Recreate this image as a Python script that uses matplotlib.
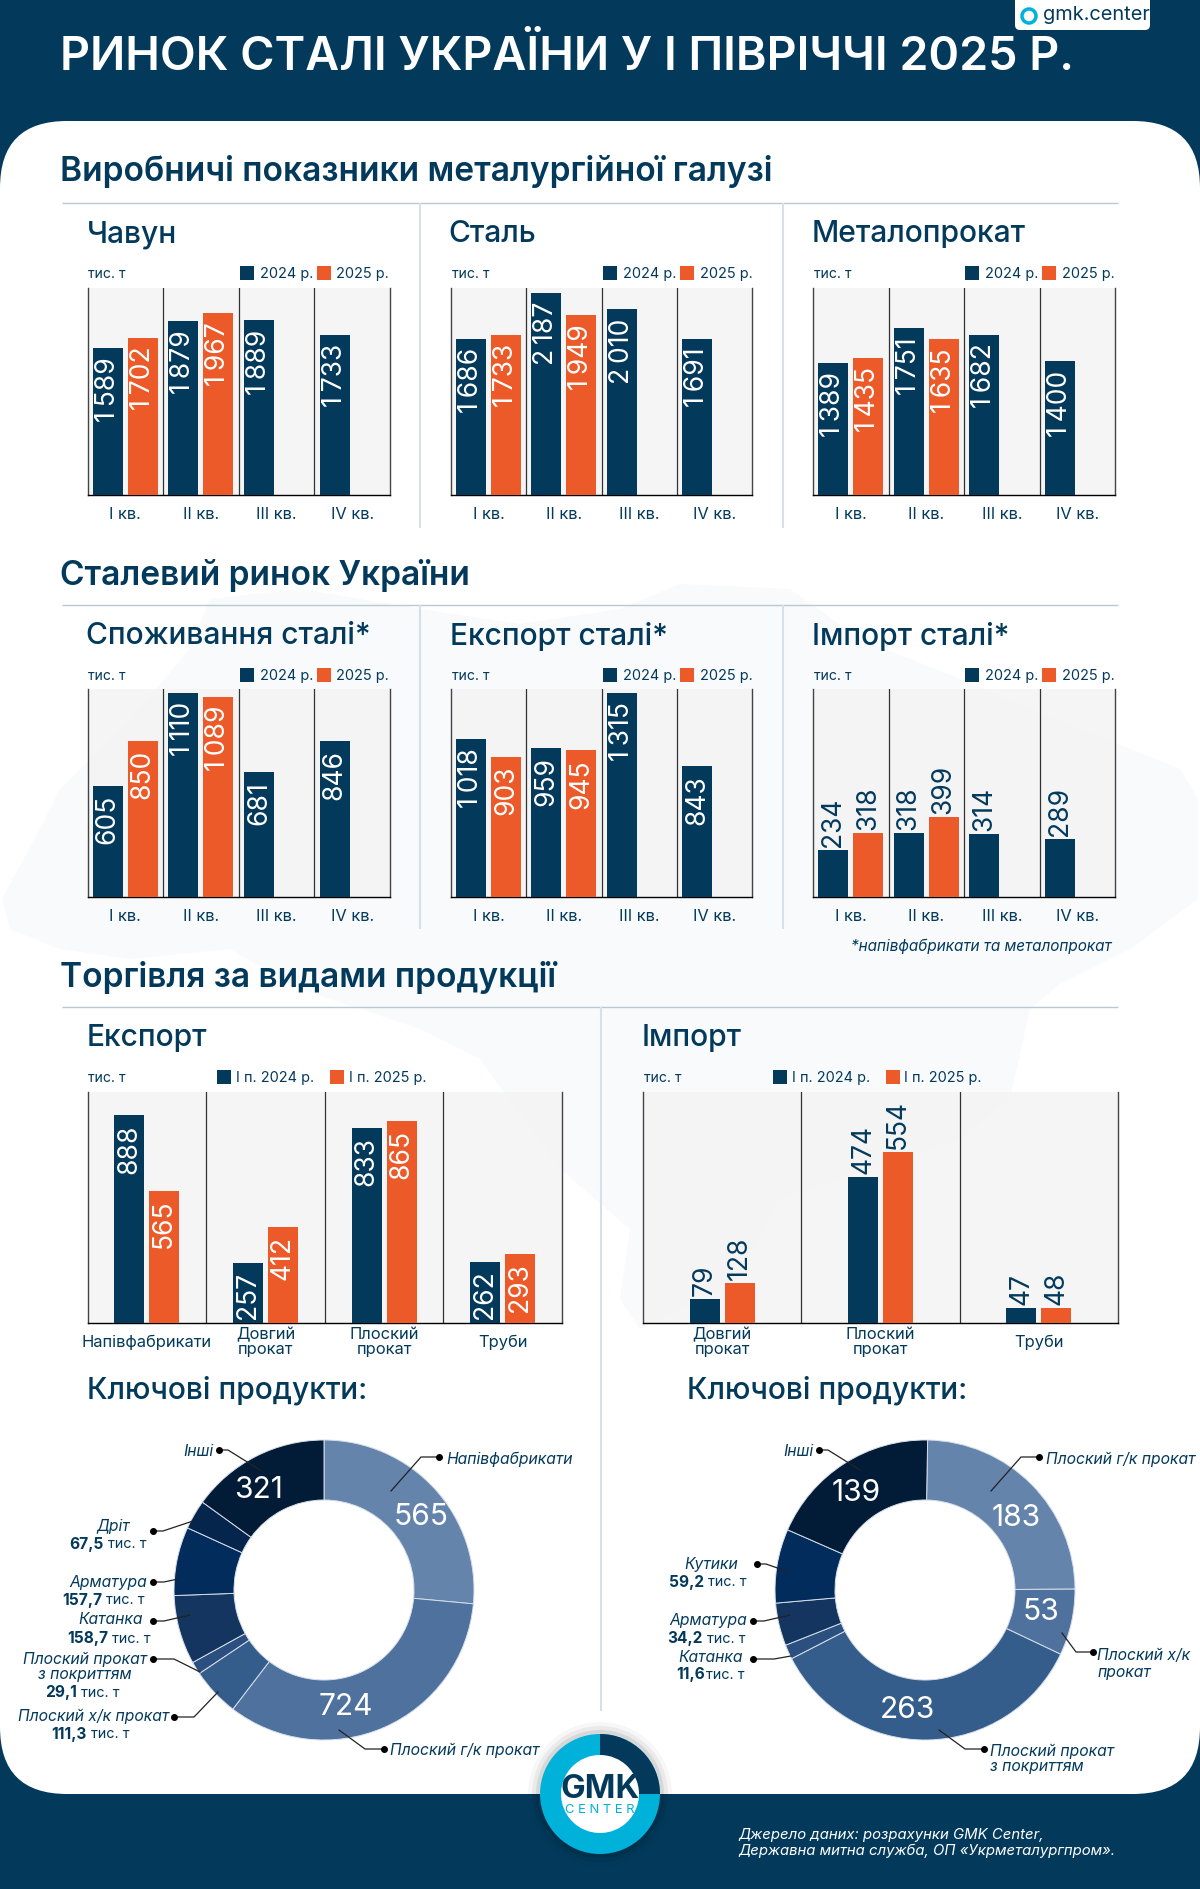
import matplotlib
matplotlib.use("Agg")
import matplotlib.pyplot as plt
from matplotlib.patches import FancyBboxPatch, Circle, Rectangle, Wedge, Polygon
import numpy as np

plt.rcParams["font.family"] = ["Inter", "Noto Sans", "DejaVu Sans"]

NAVY = "#033a5c"
ORANGE = "#eb5a28"
CYAN = "#00b2d9"
RULE = "#b9c8d3"
SHADES = ["#6484ab", "#4e719e", "#355d8b", "#2b5080", "#14355f", "#022c5c", "#05254d", "#021b36"]
W, H = 1200, 1890

quarters = ["I кв.", "II кв.", "III кв.", "IV кв."]
pig_2024 = [1589, 1879, 1889, 1733]
pig_2025 = [1702, 1967, np.nan, np.nan]
steel_2024 = [1686, 2187, 2010, 1691]
steel_2025 = [1733, 1949, np.nan, np.nan]
rolled_2024 = [1389, 1751, 1682, 1400]
rolled_2025 = [1435, 1635, np.nan, np.nan]
cons_2024 = [605, 1110, 681, 846]
cons_2025 = [850, 1089, np.nan, np.nan]
exp_2024 = [1018, 959, 1315, 843]
exp_2025 = [903, 945, np.nan, np.nan]
imp_2024 = [234, 318, 314, 289]
imp_2025 = [318, 399, np.nan, np.nan]

export_cats = ["Напівфабрикати", "Довгий\nпрокат", "Плоский\nпрокат", "Труби"]
export_h1_2024 = [888, 257, 833, 262]
export_h1_2025 = [565, 412, 865, 293]
import_cats = ["Довгий\nпрокат", "Плоский\nпрокат", "Труби"]
import_h1_2024 = [79, 474, 47]
import_h1_2025 = [128, 554, 48]

export_products = [565, 724, 111.3, 29.1, 158.7, 157.7, 67.5, 321]
import_products = [183, 53, 263, 11.6, 34.2, 59.2, 139]

fig = plt.figure(figsize=(W / 100, H / 100), dpi=100, facecolor=NAVY)
bg = fig.add_axes([0, 0, 1, 1])
bg.set_xlim(0, W)
bg.set_ylim(H, 0)
bg.axis("off")
# верхній шар для підписів поверх графіків
fg = fig.add_axes([0, 0, 1, 1], zorder=10)
fg.set_xlim(0, W)
fg.set_ylim(H, 0)
fg.axis("off")


def px(size):
    # розмір шрифту в пікселях
    return size * 0.72


def txt(x, y, s, size, color=NAVY, ha="left", va="center", weight="normal", style="normal", ax=bg, **kw):
    return ax.text(x, y, s, fontsize=px(size), color=color, ha=ha, va=va, fontweight=weight, fontstyle=style, **kw)


def rule(x0, y0, x1, y1, color=RULE, lw=1.0):
    bg.plot([x0, x1], [y0, y1], color=color, lw=lw, solid_capstyle="butt")


# біла панель
bg.add_patch(FancyBboxPatch((67, 122 + 67), W - 134, 1795 - 122 - 134, boxstyle="round,pad=67,rounding_size=67",
                            fc="white", ec="none"))

# контур карти на тлі
bg.add_patch(Polygon([(2, 900), (40, 830), (60, 790), (130, 720), (190, 650), (210, 600), (300, 590), (420, 610),
                      (520, 625), (620, 610), (680, 585), (790, 590), (860, 640), (960, 680), (1080, 730), (1180, 770),
                      (1198, 800), (1198, 900), (1130, 950), (1060, 985), (1030, 1010), (1010, 1100), (960, 1140),
                      (870, 1170), (780, 1200), (740, 1280), (640, 1330), (620, 1300), (630, 1230), (560, 1170),
                      (480, 1060), (420, 1030), (300, 990), (230, 950), (130, 960), (60, 950), (10, 930)],
                     closed=True, fc="#f8fafc", ec="none"))

txt(60, 58, "РИНОК СТАЛІ УКРАЇНИ У І ПІВРІЧЧІ 2025 Р.", 46.6, color="white", weight="semibold")

# логотип угорі
bg.add_patch(FancyBboxPatch((1019, -10), 127, 37, boxstyle="round,pad=4,rounding_size=5", fc="white", ec="none"))
bg.add_patch(Circle((1029, 17), 7, fc="white", ec=CYAN, lw=2.5))
txt(1043, 15, "gmk.center", 20, color=NAVY)


def section(y_head, y_rule, title, dividers=(420, 783), y_end=None):
    txt(60, y_head, title, 33.5, weight="semibold")
    rule(62, y_rule, 1118, y_rule)
    for d in dividers:
        rule(d, y_rule, d, y_end, color="#d5e0e8", lw=1.5)


def grouped(left, right, top, base, cats, a, b, ymax, bar_px, off_px, above=False, lab_size=26.5):
    ax = fig.add_axes([left / W, 1 - base / H, (right - left) / W, (base - top) / H])
    n = len(cats)
    group_px = (right - left) / n
    x = np.arange(n)
    ax.bar(x - off_px / group_px, a, bar_px / group_px, color=NAVY, zorder=3)
    ax.bar(x + off_px / group_px, b, bar_px / group_px, color=ORANGE, zorder=3)
    ax.set_xlim(-0.5, n - 0.5)
    ax.set_ylim(0, ymax)
    ax.set_facecolor("#f4f4f4")
    ax.patch.set_alpha(0.85)
    ax.spines["top"].set_visible(False)
    for s in ("left", "right", "bottom"):
        ax.spines[s].set_linewidth(1.0)
        ax.spines[s].set_color("#444444")
    ax.spines["bottom"].set_color("black")
    ax.set_yticks([])
    ax.set_xticks(x, cats)
    ax.tick_params(axis="x", length=0, pad=13, labelsize=px(16.5), labelcolor=NAVY)
    for t in ax.get_xticklabels():
        t.set_va("center")
        t.set_linespacing(0.95)
    for v in x[:-1]:
        ax.axvline(v + 0.5, color="#333333", lw=0.9, zorder=1)
    for i in range(n):
        for val, shift in ((a[i], -off_px / group_px), (b[i], off_px / group_px)):
            if np.isnan(val):
                continue
            label = f"{val:,}".replace(",", "\u2009")
            if above:
                ax.annotate(label, (i + shift, val), xytext=(0, 4), textcoords="offset pixels", rotation=90,
                            ha="center", va="bottom", color=NAVY, fontsize=px(lab_size), annotation_clip=False)
            else:
                ax.annotate(label, (i + shift, val), xytext=(0, -8), textcoords="offset pixels", rotation=90,
                            ha="center", va="top", color="white", fontsize=px(lab_size), zorder=4)
    return ax


def legend(x_unit, y, x1, x2, l1, l2, x_t1, x_t2):
    txt(x_unit, y, "тис. т", 14)
    bg.add_patch(Rectangle((x1, y - 7), 14, 14, fc=NAVY, ec="none"))
    txt(x_t1, y, l1, 14.5)
    bg.add_patch(Rectangle((x2, y - 7), 14, 14, fc=ORANGE, ec="none"))
    txt(x_t2, y, l2, 14.5)


panels_x = [(87.5, 390), (451, 752), (813, 1115)]

# Виробничі показники
section(172, 204, "Виробничі показники металургійної галузі", y_end=529)
prod = [("Чавун", pig_2024, pig_2025, 2240), ("Сталь", steel_2024, steel_2025, 2240),
        ("Металопрокат", rolled_2024, rolled_2025, 2170)]
for (l, r), (name, a, b, ymax) in zip(panels_x, prod):
    txt(l - (3 if name == "Сталь" else 1), 234.5, name, 30, weight="medium")
    legend(l + 1, 274, l + 152, l + 229, "2024 р.", "2025 р.", l + 172, l + 249)
    grouped(l, r, 289, 496, quarters, a, b, ymax, 30, 17.5)

# Сталевий ринок
section(576, 606, "Сталевий ринок України", y_end=930)
market = [("Споживання сталі*", cons_2024, cons_2025, 1130, False), ("Експорт сталі*", exp_2024, exp_2025, 1340, False),
          ("Імпорт сталі*", imp_2024, imp_2025, 1040, True)]
for (l, r), (name, a, b, ymax, above) in zip(panels_x, market):
    txt(l - 1, 636.5, name, 30, weight="medium")
    legend(l + 1, 676, l + 152, l + 229, "2024 р.", "2025 р.", l + 172, l + 249)
    grouped(l, r, 690, 898, quarters, a, b, ymax, 30, 17.5, above=above)
txt(1112, 946, "*напівфабрикати та металопрокат", 15.3, ha="right", style="italic")

# Торгівля
section(978, 1008, "Торгівля за видами продукції", dividers=(601,), y_end=1712)
txt(87, 1038.5, "Експорт", 30, weight="medium")
legend(88, 1078, 217, 330, "І п. 2024 р.", "І п. 2025 р.", 236, 349)
grouped(87.5, 562, 1093, 1324, export_cats, export_h1_2024, export_h1_2025, 987, 30, 17.5)
txt(642, 1038.5, "Імпорт", 30, weight="medium")
legend(644, 1078, 773, 886, "І п. 2024 р.", "І п. 2025 р.", 792, 904)
grouped(643, 1118, 1093, 1324, import_cats, import_h1_2024, import_h1_2025, 748, 30, 17.5, above=True)

txt(87, 1390, "Ключові продукти:", 30, weight="medium")
txt(687, 1390, "Ключові продукти:", 30, weight="medium")


def donut(cx, cy, values, colors, start):
    ax = fig.add_axes([(cx - 150) / W, 1 - (cy + 150) / H, 300 / W, 300 / H])
    ax.pie(values, colors=colors, startangle=start, counterclock=False, radius=1,
           wedgeprops=dict(width=0.4, edgecolor="#d6deea", linewidth=0.7))
    ax.set_xlim(-1, 1)
    ax.set_ylim(-1, 1)
    return ax


donut(324, 1591, export_products, SHADES, 90)
donut(925, 1591, import_products, SHADES[:6] + SHADES[7:], 89)

for x, y, s in [(259, 1490, "321"), (421, 1517, "565"), (346, 1707, "724"),
                (856, 1493, "139"), (1016, 1518, "183"), (1041, 1612, "53"), (907, 1710, "263")]:
    txt(x, y, s, 30, color="white", ha="center", ax=fg)


def leader(pts):
    xs, ys = zip(*pts)
    fg.plot(xs, ys, color="#222222", lw=0.9, zorder=5)
    fg.plot(xs[0], ys[0], "o", color="black", ms=4, zorder=5)


leaders = [
    [(219, 1451), (228, 1451), (260, 1471)],
    [(439, 1458), (421, 1458), (391, 1492)],
    [(384, 1750), (365, 1750), (339, 1731)],
    [(153, 1532), (163, 1532), (193, 1522)],
    [(153, 1583), (164, 1583), (178, 1580)],
    [(153, 1622), (164, 1622), (190, 1616)],
    [(153, 1660), (174, 1660), (200, 1673)],
    [(174, 1718), (194, 1718), (218, 1693)],
    [(819, 1451), (828, 1451), (860, 1471)],
    [(1039, 1458), (1021, 1458), (991, 1492)],
    [(1093, 1653), (1076, 1653), (1062, 1634)],
    [(984, 1750), (965, 1750), (939, 1731)],
    [(757, 1565), (766, 1565), (786, 1572)],
    [(753, 1622), (764, 1622), (790, 1616)],
    [(753, 1660), (774, 1660), (791, 1657)],
]
for pts in leaders:
    leader(pts)


def it(x, y, s, ha="left"):
    txt(x, y, s, 15.7, ha=ha, style="italic")


def amount(x, y, num, gap=4):
    txt(x, y, num, 15.5, ha="right", weight="bold")
    txt(x + gap, y, "тис. т", 14.5)


it(213, 1451, "Інші", "right")
it(446, 1459, "Напівфабрикати")
it(390, 1750, "Плоский г/к прокат")
it(113, 1526, "Дріт", "center")
amount(104, 1544, "67,5")
it(147, 1582, "Арматура", "right")
amount(102, 1600, "157,7")
it(143, 1620, "Катанка", "right")
amount(108, 1639, "158,7")
it(147, 1659, "Плоский прокат", "right")
it(85, 1675, "з покриттям", "center")
amount(77, 1693, "29,1")
it(169, 1716, "Плоский х/к прокат", "right")
amount(87, 1734, "111,3")

it(813, 1451, "Інші", "right")
it(1046, 1459, "Плоский г/к прокат")
it(1097, 1655, "Плоский х/к")
it(1097, 1672, "прокат")
it(990, 1751, "Плоский прокат")
it(990, 1767, "з покриттям")
it(711, 1564, "Кутики", "center")
amount(704, 1582, "59,2")
it(747, 1621, "Арматура", "right")
amount(703, 1639, "34,2")
it(743, 1657, "Катанка", "right")
amount(705, 1675, "11,6", gap=1)

# круглий логотип
for r, a in zip([72, 68, 64], [0.03, 0.05, 0.08]):
    bg.add_patch(Circle((600, 1795), r, fc="black", alpha=a, ec="none", zorder=6))
bg.add_patch(Circle((600, 1795), 60, fc=CYAN, ec="none", zorder=7))
bg.add_patch(Wedge((600, 1795), 60, -90, 0, fc=NAVY, ec="none", zorder=7))
bg.add_patch(Circle((600, 1795), 39, fc="white", ec="none", zorder=8))
txt(600, 1789, "GMK", 33, weight="bold", ha="center", zorder=9)
txt(600, 1810, "C E N T E R", 13, color=CYAN, ha="center", zorder=9)

txt(738, 1835, "Джерело даних: розрахунки GMK Center,", 14.9, color="white", style="italic")
txt(738, 1851, "Державна митна служба, ОП «Укрметалургпром».", 14.9, color="white", style="italic")

fig.savefig("out.png", dpi=100, facecolor=NAVY)
